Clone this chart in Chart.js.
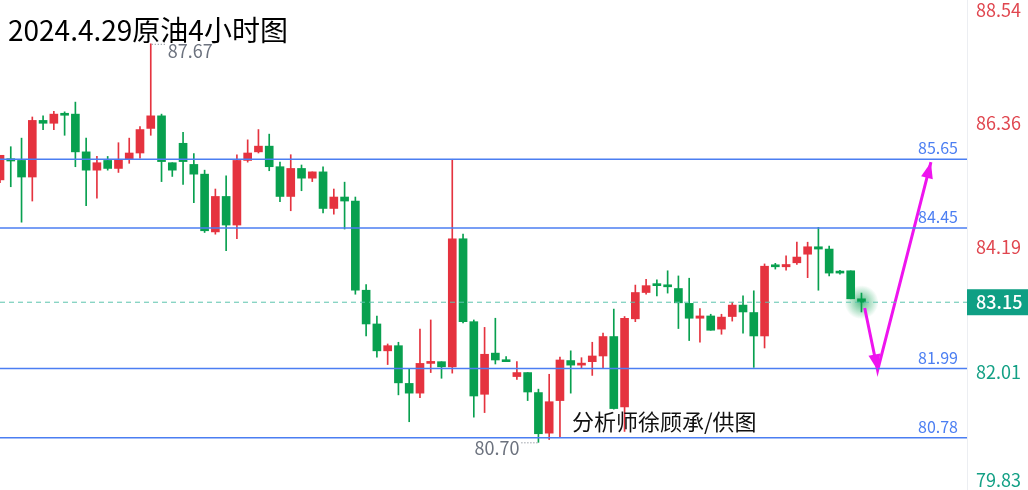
<!DOCTYPE html>
<html lang="zh-CN">
<head>
<meta charset="UTF-8">
<title>2024.4.29原油4小时图</title>
<script src="https://cdn.jsdelivr.net/npm/chart.js"></script>
<style>
    html, body { margin: 0; padding: 0; background: #fff; }
    .wrap { position: relative; width: 1028px; height: 490px; }
</style>
</head>
<body>
<div class="wrap"><canvas id="oilChart"></canvas></div>
<script>
// 4小时K线: 开 / 高 / 低 / 收
const opens  = [85.29, 85.66, 85.63, 85.34, 86.33, 86.28, 86.44, 86.44, 85.78, 85.46,
                85.63, 85.49, 85.65, 85.76, 86.19, 86.41, 85.59, 85.93, 85.56, 85.39,
                84.38, 85.00, 84.50, 85.63, 85.78, 85.88, 85.52, 85.00, 85.49, 85.32,
                85.43, 84.79, 84.99, 84.92, 83.36, 82.77, 82.30, 82.39, 81.73, 81.56,
                82.08, 82.11, 82.02, 84.26, 82.81, 81.54, 82.26, 82.14, 81.85, 81.92,
                81.57, 80.86, 81.43, 82.13, 82.05, 82.11, 82.21, 82.55, 81.32, 82.86,
                83.32, 83.46, 83.45, 83.39, 83.13, 82.87, 82.91, 82.68, 82.90, 83.10,
                82.97, 82.56, 83.79, 83.77, 83.84, 83.99, 84.12, 84.08, 83.68, 83.70,
                83.21];
const highs  = [85.72, 85.87, 86.02, 86.39, 86.41, 86.49, 86.48, 86.65, 86.02, 85.70,
                85.70, 85.94, 86.02, 86.22, 87.67, 86.44, 85.59, 86.12, 85.75, 85.46,
                85.13, 85.36, 85.73, 85.99, 86.17, 86.09, 85.60, 85.73, 85.55, 85.43,
                85.52, 85.13, 85.25, 84.99, 83.46, 82.91, 82.42, 82.45, 81.99, 82.68,
                82.84, 82.11, 85.65, 84.34, 82.84, 82.71, 82.87, 82.20, 82.11, 81.92,
                81.63, 81.89, 82.19, 82.30, 82.18, 82.45, 82.61, 83.03, 82.90, 83.45,
                83.55, 83.54, 83.70, 83.61, 83.57, 83.04, 82.94, 82.94, 83.15, 83.26,
                83.35, 83.82, 83.83, 83.96, 84.20, 84.20, 84.46, 84.13, 83.71, 83.70,
                83.31];
const lows   = [85.24, 85.17, 84.55, 84.92, 86.17, 86.17, 86.07, 85.52, 84.84, 84.97,
                85.46, 85.42, 85.58, 85.67, 86.07, 85.26, 85.35, 85.21, 84.89, 84.37,
                84.34, 84.05, 84.26, 85.60, 85.76, 85.45, 84.91, 84.75, 85.10, 85.26,
                84.71, 84.69, 84.43, 83.29, 82.56, 82.19, 82.06, 81.53, 81.06, 81.48,
                81.92, 81.82, 81.91, 82.79, 81.14, 81.22, 82.07, 82.11, 81.80, 81.43,
                80.70, 80.75, 80.79, 81.56, 81.99, 81.87, 81.99, 81.28, 80.89, 82.81,
                83.29, 83.26, 83.31, 82.69, 82.48, 82.45, 82.66, 82.59, 82.82, 82.61,
                82.01, 82.35, 83.73, 83.71, 83.81, 83.58, 83.36, 83.61, 83.64, 83.21,
                82.98];
const closes = [85.72, 85.62, 85.34, 86.33, 86.28, 86.44, 86.42, 85.78, 85.46, 85.59,
                85.49, 85.64, 85.76, 86.17, 86.41, 85.61, 85.46, 85.61, 85.39, 84.40,
                85.00, 84.50, 85.63, 85.76, 85.88, 85.52, 85.00, 85.49, 85.32, 85.43,
                84.79, 84.99, 84.92, 83.36, 82.77, 82.30, 82.39, 81.74, 81.56, 82.08,
                82.11, 82.02, 84.26, 82.81, 81.51, 82.24, 82.14, 82.11, 81.92, 81.58,
                80.85, 81.41, 82.14, 82.05, 82.08, 82.21, 82.55, 81.29, 82.87, 83.32,
                83.44, 83.44, 83.42, 83.14, 82.87, 82.91, 82.66, 82.89, 83.10, 82.98,
                82.56, 83.78, 83.77, 83.81, 83.94, 84.12, 84.08, 83.66, 83.66, 83.21,
                83.15];

// 支撑/阻力位, 现价, 右侧刻度
const levels = [85.65, 84.45, 81.99, 80.78];
const lastPrice = 83.15;
const yTickValues = [88.54, 86.36, 84.19, 82.01, 79.83];
// 最高/最低标注 (K线序号, 价格)
const highMark = [14, 87.67];
const lowMark = [50, 80.70];
// 预测箭头路径 (K线序号, 价格)
const arrowPath = [[80.3, 83.05], [81.5, 81.96], [86.45, 85.60]];

const X_MAX = 89.8;
const Y_MIN = 79.866, Y_MAX = 88.436;
const UP = '#e5333f', DOWN = '#08a04f';
const BLUE = '#4b7ef2', MAGENTA = '#ee14ee';
const FONT = '"Noto Sans CJK SC", "Noto Sans", sans-serif';

const idx = closes.map((_, i) => i);
const candleColors = idx.map(i => closes[i] >= opens[i] ? UP : DOWN);

// 刻度标签位置: 两端收进图内, 中间稍微下移
function placeTick(v) {
    if (v > Y_MAX - 0.175) return Y_MAX - 0.175;
    if (v < Y_MIN + 0.175) return Y_MIN + 0.175;
    return v - 0.08;
}

const flat = v => [{ x: 0, y: v }, { x: X_MAX, y: v }];

const datasets = [
    ...levels.map(v => ({
        type: 'line', data: flat(v), borderColor: BLUE, borderWidth: 1.5,
        pointRadius: 0, order: 0
    })),
    {
        type: 'line', data: flat(lastPrice), borderColor: '#5cc4ad', borderWidth: 1,
        borderDash: [5, 4], pointRadius: 0, order: 0
    },
    {
        type: 'line', data: arrowPath.map(([x, y]) => ({ x, y })), borderColor: MAGENTA,
        borderWidth: 3, pointRadius: 0, tension: 0, order: 0
    },
    {
        type: 'bar', data: idx.map(i => ({ x: i, y: [opens[i], closes[i]] })),
        backgroundColor: candleColors, barThickness: 8, minBarLength: 2,
        grouped: false, order: 2
    },
    {
        type: 'bar', data: idx.map(i => ({ x: i, y: [lows[i], highs[i]] })),
        backgroundColor: candleColors, barThickness: 1, grouped: false, order: 3
    }
];

function arrowHead(ctx, x0, y0, x1, y1) {
    const a = Math.atan2(y1 - y0, x1 - x0);
    const len = 16, half = 6;
    ctx.beginPath();
    ctx.moveTo(x1, y1);
    ctx.lineTo(x1 - len * Math.cos(a) + half * Math.sin(a), y1 - len * Math.sin(a) - half * Math.cos(a));
    ctx.lineTo(x1 - len * Math.cos(a) - half * Math.sin(a), y1 - len * Math.sin(a) + half * Math.cos(a));
    ctx.closePath();
    ctx.fill();
}

const decor = {
    id: 'decor',
    beforeDatasetsDraw(chart) {
        const { ctx, scales: { x, y } } = chart;
        const cx = x.getPixelForValue(idx.length - 1), cy = y.getPixelForValue(lastPrice);
        const g = ctx.createRadialGradient(cx, cy, 2, cx, cy, 17);
        g.addColorStop(0, 'rgba(8,160,79,0.6)');
        g.addColorStop(1, 'rgba(8,160,79,0)');
        ctx.save();
        ctx.fillStyle = g;
        ctx.beginPath();
        ctx.arc(cx, cy, 17, 0, Math.PI * 2);
        ctx.fill();
        ctx.restore();
    },
    afterDraw(chart) {
        const { ctx, chartArea: area, scales: { x, y } } = chart;
        ctx.save();

        // 水平位标签
        ctx.font = '16px ' + FONT;
        ctx.fillStyle = BLUE;
        ctx.textAlign = 'right';
        ctx.textBaseline = 'bottom';
        levels.forEach(v => ctx.fillText(v.toFixed(2), area.right - 9, y.getPixelForValue(v) - 3));

        // 现价标签
        const py = y.getPixelForValue(lastPrice);
        ctx.fillStyle = '#0f9f84';
        ctx.fillRect(area.right, py - 13, chart.width - area.right, 26);
        ctx.fillStyle = '#fff';
        ctx.font = '500 18px ' + FONT;
        ctx.textAlign = 'left';
        ctx.textBaseline = 'middle';
        ctx.fillText(lastPrice.toFixed(2), area.right + 9, py);

        // 箭头
        ctx.fillStyle = MAGENTA;
        const pts = arrowPath.map(([a, b]) => [x.getPixelForValue(a), y.getPixelForValue(b)]);
        for (let i = 1; i < pts.length; i++) {
            arrowHead(ctx, pts[i - 1][0], pts[i - 1][1], pts[i][0], pts[i][1]);
        }

        // 最高/最低
        ctx.font = '18px ' + FONT;
        ctx.fillStyle = '#6c727e';
        ctx.strokeStyle = '#6c727e';
        ctx.lineWidth = 1;
        ctx.setLineDash([1, 2]);
        const hx = x.getPixelForValue(highMark[0]), hy = y.getPixelForValue(highMark[1]);
        ctx.beginPath(); ctx.moveTo(hx + 1, hy + 0.5); ctx.lineTo(hx + 16, hy + 0.5); ctx.stroke();
        ctx.textAlign = 'left';
        ctx.fillText(highMark[1].toFixed(2), hx + 17, hy + 7);
        const lx = x.getPixelForValue(lowMark[0]), ly = y.getPixelForValue(lowMark[1]);
        ctx.beginPath(); ctx.moveTo(lx - 1, ly + 0.5); ctx.lineTo(lx - 17, ly + 0.5); ctx.stroke();
        ctx.textAlign = 'right';
        ctx.fillText(lowMark[1].toFixed(2), lx - 19, ly + 6);
        ctx.setLineDash([]);

        // 标题与署名
        ctx.fillStyle = '#000';
        ctx.textAlign = 'left';
        ctx.font = '28px ' + FONT;
        ctx.fillText('2024.4.29原油4小时图', 8, 30);
        ctx.fillStyle = '#111';
        ctx.font = '22px ' + FONT;
        ctx.fillText('分析师徐顾承/供图', 572, 422);
        ctx.restore();
    }
};

new Chart(document.getElementById('oilChart'), {
    type: 'bar',
    data: { datasets },
    options: {
        responsive: true,
        maintainAspectRatio: false,
        animation: false,
        layout: { padding: 0 },
        plugins: { legend: { display: false }, tooltip: { enabled: false } },
        scales: {
            x: { type: 'linear', display: false, min: 0, max: X_MAX, offset: false },
            y: {
                position: 'right',
                min: Y_MIN,
                max: Y_MAX,
                grid: { display: false, drawTicks: false },
                border: { display: true, color: '#eceef2', width: 1 },
                afterBuildTicks: s => { s.ticks = yTickValues.map(v => ({ value: placeTick(v) })); },
                afterFit: s => { s.width = 61; s.paddingTop = 0; s.paddingBottom = 0; },
                ticks: {
                    padding: 9,
                    autoSkip: false,
                    font: { family: FONT, size: 18 },
                    color: c => yTickValues[c.index] > lastPrice ? '#e0464f' : '#13a085',
                    callback: (v, i) => yTickValues[i].toFixed(2)
                }
            }
        }
    },
    plugins: [decor]
});
</script>
</body>
</html>
